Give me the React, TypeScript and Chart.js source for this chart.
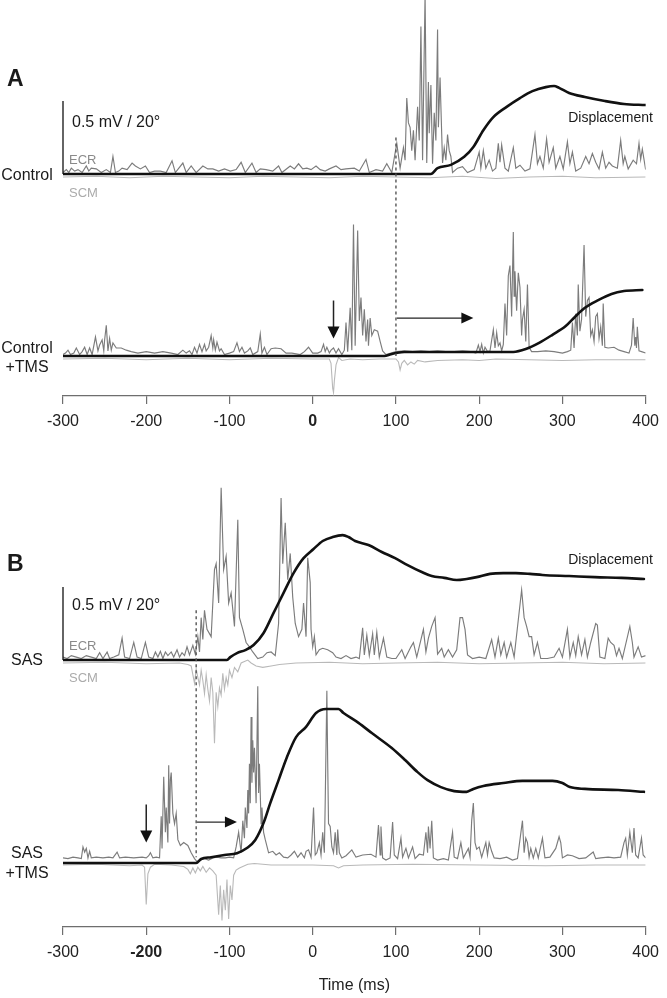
import React, { useEffect, useRef } from "react";
import { Chart, registerables } from "chart.js";
Chart.register(...registerables);

type P = [number, number];

// ---------- axis ticks ----------
const timeTicks = [-300, -200, -100, 0, 100, 200, 300, 400];
const boldTickA = 0;
const boldTickB = -200;

// ---------- Panel A : Control (ECR mV, SCM mV, displacement deg) ----------
const ctrlEcr: P[] = [[-300,0.01],[-296,0.03],[-293,0.01],[-290,0.04],[-286,0.02],[-282,0.03],[-277,0.01],[-272,0.055],[-269,0.02],[-266,0.04],[-260,0.035],[-254,0.01],[-248,0.03],[-243,0.01],[-240,0.12],[-237,0.01],[-233,0.02],[-229,0.04],[-223,0.03],[-217,0.075],[-213,0.055],[-207,0.035],[-201,0.055],[-196,0.01],[-190,0.02],[-183,0.02],[-176,0.01],[-169,0.09],[-165,0.01],[-156,0.075],[-152,0.01],[-146,0.055],[-140,0.01],[-132,0.055],[-126,0.035],[-120,0.035],[-113,0.02],[-106,0.035],[-99,0.02],[-92,0.03],[-86,0.08],[-81,0.01],[-73,0.075],[-68,0.01],[-63,0.035],[-56,0.03],[-48,0.02],[-41,0.055],[-37,0.01],[-27,0.055],[-22,0.035],[-17,0.07],[-12,0.035],[-7,0.04],[-2,0.03],[4,0.055],[9,0.03],[15,0.02],[20,0.035],[28,0.055],[34,0.03],[40,0.035],[50,0.04],[56,0.02],[64,0.10],[68,0.01],[76,0.03],[84,0.02],[89,0.07],[95,0.01],[101,0.21],[105,0.04],[109,0.18],[111,0.095],[113,0.52],[115,0.35],[117,0.32],[119,0.16],[121,0.30],[123,0.095],[126,0.46],[128,0.23],[130,1.01],[132,0.095],[135,1.23],[137,0.075],[139,0.63],[140,0.28],[142,0.61],[144,0.07],[146,0.42],[148,0.23],[150,0.99],[151,0.32],[153,0.66],[156,0.075],[158,0.18],[160,0.095],[162,0.27],[164,0.16],[166,0.12],[168,0.01],[174,0.04],[180,0.05],[186,0.01],[194,0.03],[200,0.15],[202,0.04],[205,0.16],[208,0.04],[212,0.095],[216,0.02],[220,0.04],[223,0.21],[225,0.08],[227,0.20],[231,0.04],[235,0.02],[241,0.18],[244,0.04],[249,0.06],[255,0.02],[261,0.035],[267,0.27],[270,0.07],[273,0.12],[277,0.04],[281,0.24],[284,0.08],[289,0.18],[292,0.04],[297,0.12],[301,0.035],[306,0.22],[309,0.07],[312,0.15],[316,0.02],[322,0.04],[328,0.12],[332,0.07],[336,0.14],[340,0.08],[344,0.035],[348,0.15],[352,0.04],[356,0.08],[360,0.055],[366,0.04],[370,0.23],[373,0.07],[375,0.12],[379,0.035],[385,0.095],[389,0.07],[392,0.21],[394,0.10],[396,0.17],[400,0.03]];
const ctrlScm: P[] = [[-300,0],[-260,0.005],[-220,-0.005],[-180,0.005],[-140,0],[-100,-0.005],[-60,0.005],[-20,0],[20,-0.005],[60,0.005],[100,0],[140,-0.005],[180,0.005],[220,-0.01],[260,0],[300,0.005],[340,-0.005],[400,0]];
const ctrlDisp: P[] = [[-300,0],[142,0],[150,1.6],[166,2.5],[182,4.7],[193,7.4],[205,12],[217,15.6],[233,18.4],[249,20.8],[264,22.7],[280,23.8],[290,24.1],[296,23.6],[308,22.2],[327,21.1],[351,20],[374,19.2],[400,18.9]];

// ---------- Panel A : Control + TMS ----------
const tmsEcr: P[] = [[-300,0.01],[-297,0.02],[-294,0.04],[-291,0.01],[-287,0.02],[-284,0.055],[-280,0.01],[-277,0.03],[-274,0.06],[-271,0.01],[-268,0.055],[-265,0.01],[-261,0.13],[-258,0.035],[-256,0.075],[-253,0.11],[-251,0.035],[-250,0.11],[-248,0.21],[-246,0.035],[-244,0.12],[-242,0.04],[-240,0.09],[-236,0.055],[-230,0.055],[-224,0.04],[-218,0.03],[-210,0.02],[-200,0.03],[-190,0.02],[-180,0.03],[-170,0.02],[-162,0.01],[-156,0.04],[-152,0.02],[-148,0.035],[-145,0.01],[-142,0.06],[-139,0.02],[-136,0.08],[-133,0.03],[-130,0.08],[-128,0.035],[-125,0.06],[-122,0.14],[-120,0.055],[-119,0.11],[-117,0.04],[-115,0.095],[-112,0.035],[-110,0.05],[-106,0.01],[-100,0.02],[-95,0.03],[-91,0.09],[-88,0.03],[-85,0.06],[-82,0.02],[-78,0.035],[-75,0.055],[-72,0.01],[-66,0.03],[-63,0.15],[-61,0.02],[-58,0.06],[-55,0.01],[-50,0.05],[-45,0.055],[-38,0.05],[-32,0.02],[-25,0.02],[-15,0.01],[-10,0.03],[-5,0.06],[0,0.02],[6,0.02],[10,0.03],[13,0.08],[15,0.03],[17,0.06],[20,0.02],[22,0.04],[25,0.055],[28,0.02],[31,0.05],[35,0.01],[38,0.04],[40,0.23],[42,0.03],[45,0.33],[47,0.04],[49,0.90],[51,0.07],[54,0.86],[56,0.24],[58,0.40],[60,0.14],[62,0.32],[64,0.10],[66,0.25],[67,0.07],[69,0.26],[71,0.14],[74,0.18],[78,0.17],[81,0.10],[84,0.035],[88,0.01],[94,0.02],[100,0.03],[110,0.035],[120,0.03],[130,0.035],[140,0.03],[150,0.035],[160,0.03],[170,0.03],[180,0.035],[190,0.03],[196,0.02],[199,0.075],[201,0.03],[203,0.08],[205,0.02],[207,0.06],[210,0.03],[213,0.035],[217,0.18],[219,0.055],[221,0.16],[223,0.07],[225,0.09],[227,0.035],[229,0.08],[231,0.36],[233,0.14],[235,0.55],[237,0.62],[239,0.27],[241,0.85],[242,0.41],[243,0.58],[245,0.31],[247,0.57],[249,0.47],[251,0.14],[252,0.25],[254,0.32],[256,0.10],[258,0.49],[260,0.06],[263,0.03],[270,0.03],[280,0.035],[290,0.03],[300,0.02],[306,0.03],[310,0.04],[312,0.23],[314,0.055],[316,0.29],[318,0.14],[319,0.49],[321,0.17],[323,0.25],[326,0.76],[328,0.27],[330,0.38],[332,0.40],[334,0.14],[336,0.18],[338,0.10],[340,0.27],[342,0.29],[344,0.12],[346,0.20],[348,0.07],[349,0.36],[351,0.06],[355,0.055],[362,0.06],[368,0.04],[374,0.03],[380,0.02],[383,0.075],[385,0.26],[387,0.07],[388,0.13],[389,0.055],[390,0.20],[392,0.035],[395,0.03],[400,0.02]];
const tmsScm: P[] = [[-300,0],[-250,0.005],[-200,-0.005],[-150,0.005],[-100,-0.005],[-50,0.005],[0,0],[20,0],[22,-0.03],[24,-0.2],[25,-0.23],[26,-0.15],[28,-0.04],[31,0.01],[35,-0.01],[45,0],[60,-0.005],[80,0],[100,0],[103,-0.02],[105,-0.075],[107,-0.03],[110,-0.01],[114,-0.04],[118,-0.02],[122,-0.035],[126,-0.01],[135,-0.02],[150,-0.01],[180,-0.005],[200,-0.01],[220,0],[260,-0.005],[300,-0.01],[340,-0.005],[400,-0.005]];
const tmsDisp: P[] = [[-300,0],[86,0],[94,0.5],[100,0.8],[110,1.1],[150,1.1],[200,1.1],[241,1.1],[256,1.9],[272,3.6],[288,5.8],[304,8.2],[315,10.7],[327,13.2],[343,15.3],[359,17],[374,17.8],[396,18.1]];

// ---------- Panel B : SAS ----------
const sasEcr: P[] = [[-300,0.02],[-295,0.01],[-290,0.03],[-284,0.02],[-278,0.01],[-272,0.03],[-266,0.02],[-260,0.01],[-256,0.05],[-252,0.01],[-247,0.055],[-244,0.01],[-239,0.02],[-233,0.035],[-229,0.15],[-226,0.02],[-220,0.01],[-215,0.12],[-211,0.02],[-206,0.01],[-201,0.12],[-197,0.02],[-192,0.01],[-189,0.055],[-186,0.02],[-183,0.06],[-180,0.01],[-177,0.055],[-174,0.03],[-170,0.055],[-167,0.02],[-163,0.07],[-160,0.02],[-157,0.05],[-154,0.03],[-151,0.09],[-148,0.035],[-144,0.10],[-141,0.04],[-138,0.16],[-136,0.055],[-134,0.29],[-132,0.14],[-130,0.34],[-127,0.21],[-122,0.16],[-118,0.62],[-116,0.66],[-113,0.39],[-110,1.18],[-107,0.62],[-104,0.71],[-101,0.39],[-98,0.46],[-94,0.23],[-90,0.96],[-88,0.29],[-84,0.21],[-80,0.12],[-76,0.09],[-72,0.055],[-66,0.01],[-60,0.02],[-55,0.05],[-50,0.055],[-45,0.03],[-41,0.25],[-38,1.11],[-36,0.66],[-33,0.94],[-30,0.55],[-27,0.73],[-24,0.43],[-21,0.25],[-17,0.16],[-13,0.21],[-11,0.39],[-8,0.16],[-6,0.70],[-3,0.53],[-2,0.21],[0,0.09],[2,0.16],[4,0.035],[8,0.07],[12,0.08],[18,0.07],[24,0.05],[28,0.02],[34,0.01],[40,0.03],[46,0.01],[52,0.02],[56,0.01],[60,0.22],[62,0.035],[65,0.17],[68,0.03],[72,0.18],[74,0.035],[77,0.19],[80,0.02],[85,0.15],[89,0.02],[95,0.01],[100,0.01],[107,0.07],[111,0.01],[118,0.09],[121,0.12],[125,0.02],[133,0.21],[136,0.055],[139,0.15],[143,0.23],[147,0.29],[150,0.04],[155,0.08],[158,0.02],[163,0.07],[168,0.02],[173,0.07],[177,0.29],[180,0.29],[183,0.21],[186,0.035],[192,0.01],[200,0.02],[208,0.01],[215,0.14],[219,0.02],[223,0.15],[226,0.035],[230,0.12],[233,0.02],[238,0.12],[242,0.02],[251,0.48],[254,0.29],[257,0.23],[260,0.16],[263,0.16],[266,0.035],[270,0.12],[274,0.01],[282,0.01],[290,0.02],[296,0.08],[300,0.02],[306,0.21],[309,0.02],[313,0.12],[316,0.03],[319,0.16],[323,0.035],[327,0.14],[330,0.02],[334,0.12],[340,0.25],[342,0.24],[345,0.02],[351,0.01],[355,0.15],[358,0.12],[362,0.10],[365,0.03],[368,0.08],[372,0.01],[381,0.23],[384,0.12],[386,0.02],[391,0.09],[395,0.02],[400,0.03]];
const sasScm: P[] = [[-300,0],[-250,0.005],[-200,-0.005],[-160,0],[-150,-0.01],[-146,-0.02],[-144,-0.08],[-142,-0.14],[-140,-0.04],[-138,-0.10],[-136,-0.15],[-134,-0.05],[-132,-0.12],[-130,-0.21],[-128,-0.08],[-126,-0.18],[-124,-0.26],[-122,-0.1],[-120,-0.2],[-118,-0.55],[-116,-0.2],[-114,-0.3],[-112,-0.17],[-110,-0.22],[-108,-0.07],[-106,-0.18],[-104,-0.1],[-102,-0.15],[-100,-0.05],[-97,-0.1],[-94,-0.03],[-90,-0.06],[-86,0.0],[-82,0.01],[-78,0.02],[-74,0.0],[-68,-0.02],[-60,-0.03],[-50,-0.02],[-40,-0.01],[-20,0],[20,0.005],[60,-0.005],[100,0],[150,0.005],[200,-0.005],[250,0],[300,0.005],[350,-0.005],[400,0]];
const sasDisp: P[] = [[-300,0],[-103,0],[-99,0.8],[-91,1.9],[-81,2.7],[-71,4.1],[-59,7.4],[-47,12.9],[-35,18.4],[-23,23.8],[-11,27.9],[1,30.4],[12,32.6],[24,33.7],[36,34.2],[43,33.7],[51,32.6],[67,31.5],[83,29.6],[99,27.9],[114,26],[131,24.1],[143,23],[158,22.5],[173,21.9],[185,22.2],[197,22.7],[213,23.6],[229,23.8],[244,23.8],[261,23.6],[276,23.3],[308,23],[339,22.7],[371,22.5],[398,22.2]];

// ---------- Panel B : SAS + TMS ----------
const sasTmsEcr: P[] = [[-300,0.035],[-294,0.03],[-288,0.04],[-282,0.035],[-278,0.03],[-276,0.11],[-274,0.075],[-272,0.10],[-270,0.035],[-268,0.08],[-266,0.035],[-260,0.04],[-252,0.035],[-245,0.04],[-240,0.035],[-235,0.075],[-232,0.035],[-225,0.04],[-215,0.035],[-205,0.04],[-200,0.035],[-197,0.05],[-195,0.07],[-192,0.035],[-188,0.04],[-184,0.035],[-182,0.32],[-181,0.10],[-179,0.59],[-177,0.21],[-176,0.38],[-174,0.14],[-173,0.67],[-172,0.27],[-171,0.57],[-170,0.62],[-168,0.34],[-166,0.27],[-164,0.34],[-162,0.16],[-159,0.12],[-155,0.14],[-150,0.12],[-146,0.07],[-142,0.03],[-139,0.01],[-135,0.02],[-130,0.03],[-125,0.02],[-120,0.035],[-115,0.04],[-110,0.035],[-105,0.035],[-100,0.04],[-95,0.035],[-92,0.11],[-89,0.21],[-86,0.07],[-84,0.29],[-82,0.17],[-81,0.38],[-79,0.24],[-78,0.50],[-77,0.34],[-76,0.68],[-75,0.41],[-74,1.0],[-73,0.55],[-72,0.84],[-71,0.62],[-70,0.79],[-68,0.41],[-66,1.21],[-65,0.48],[-64,0.68],[-62,0.27],[-61,0.38],[-59,0.21],[-57,0.16],[-53,0.07],[-48,0.08],[-44,0.055],[-40,0.07],[-35,0.04],[-30,0.035],[-26,0.055],[-22,0.08],[-18,0.04],[-14,0.07],[-10,0.035],[-8,0.08],[-5,0.09],[-2,0.04],[1,0.38],[3,0.055],[5,0.07],[8,0.14],[10,0.055],[12,0.21],[14,0.07],[15,0.41],[17,1.18],[18,0.69],[19,0.27],[21,0.25],[23,0.11],[25,0.07],[27,0.21],[29,0.055],[30,0.23],[32,0.07],[35,0.035],[40,0.05],[47,0.09],[52,0.04],[60,0.055],[70,0.06],[76,0.04],[79,0.26],[81,0.055],[82,0.25],[84,0.035],[88,0.02],[93,0.035],[96,0.28],[98,0.055],[102,0.03],[106,0.17],[108,0.04],[112,0.10],[115,0.035],[120,0.11],[123,0.03],[128,0.06],[133,0.055],[136,0.21],[138,0.07],[139,0.25],[141,0.10],[143,0.29],[145,0.035],[150,0.02],[157,0.03],[163,0.02],[168,0.21],[170,0.04],[174,0.03],[178,0.14],[181,0.035],[187,0.10],[189,0.04],[191,0.29],[193,0.41],[195,0.14],[197,0.095],[200,0.11],[203,0.04],[208,0.14],[210,0.055],[212,0.14],[215,0.08],[218,0.035],[225,0.03],[233,0.04],[240,0.02],[246,0.03],[252,0.29],[254,0.07],[256,0.17],[258,0.14],[260,0.04],[262,0.10],[265,0.035],[268,0.10],[271,0.035],[276,0.17],[279,0.035],[285,0.04],[292,0.10],[296,0.18],[298,0.14],[300,0.035],[306,0.055],[312,0.05],[320,0.03],[328,0.035],[337,0.075],[340,0.03],[346,0.035],[355,0.04],[362,0.035],[370,0.04],[374,0.14],[376,0.17],[378,0.055],[381,0.21],[384,0.07],[386,0.24],[388,0.055],[391,0.035],[395,0.17],[397,0.055],[400,0.035]];
const sasTmsScm: P[] = [[-300,0],[-260,0.005],[-220,-0.005],[-205,0],[-202,-0.015],[-200,-0.27],[-198,-0.06],[-195,-0.015],[-190,0.005],[-170,0],[-155,-0.01],[-150,-0.03],[-147,-0.06],[-144,-0.02],[-141,-0.055],[-138,-0.015],[-135,-0.04],[-132,-0.01],[-128,-0.05],[-124,-0.02],[-120,-0.04],[-116,-0.07],[-113,-0.34],[-111,-0.14],[-109,-0.38],[-107,-0.17],[-105,-0.31],[-103,-0.1],[-101,-0.37],[-99,-0.14],[-97,-0.24],[-95,-0.07],[-92,-0.035],[-88,-0.02],[-84,-0.01],[-78,0.005],[-70,0.01],[-50,0],[0,0],[25,-0.005],[31,-0.02],[37,-0.005],[60,0],[120,0.005],[200,0],[280,-0.005],[340,0],[400,0]];
const sasTmsDisp: P[] = [[-300,0],[-140,0],[-134,1.1],[-122,1.6],[-106,2.2],[-91,2.7],[-79,4.1],[-69,6.3],[-59,11],[-51,16.4],[-41,22.7],[-31,29],[-20,34.5],[-8,37.3],[4,41.1],[16,42.2],[31,42.2],[37,41.1],[55,38.4],[71,35.6],[95,31.5],[111,28.2],[126,24.9],[138,22.7],[154,20.8],[170,19.7],[185,19.5],[193,20.3],[205,21.1],[229,21.9],[252,22.5],[288,22.5],[300,21.9],[309,20.8],[327,20.3],[367,20],[398,19.5]];

// ---------- styling / layout ----------
const FONT = '"Liberation Sans", Arial, Helvetica, sans-serif';
const PX_PER_MV = 146;   // 0.5 mV = 73 px
const PX_PER_DEG = 3.65; // 20 deg = 73 px
const W = 667;

const panelA = {
  top: 0, height: 445, axisH: 49,
  traces: [
    { ecr: ctrlEcr, scm: ctrlScm, disp: ctrlDisp, base: 174, scmBase: 177 },
    { ecr: tmsEcr, scm: tmsScm, disp: tmsDisp, base: 356, scmBase: 359 },
  ],
  bold: boldTickA, title: "",
  ann: {
    bar: { x: -300, from: 0, to: 0.5 },
    dash: { x: 100, top: 0.25, bottom: 0 },
    hArrow: { x1: 101, x2: 193, v: 0.26 },
    vArrow: { x: 25, v1: 0.38, v2: 0.12 },
  },
};
const panelB = {
  top: 445, height: 553, axisH: 71,
  traces: [
    { ecr: sasEcr, scm: sasScm, disp: sasDisp, base: 215, scmBase: 218 },
    { ecr: sasTmsEcr, scm: sasTmsScm, disp: sasTmsDisp, base: 418, scmBase: 420 },
  ],
  bold: boldTickB, title: "Time (ms)",
  ann: {
    bar: { x: -300, from: 0, to: 0.5 },
    dash: { x: -140, top: 0.34, bottom: 0.04 },
    hArrow: { x1: -139, x2: -91, v: 0.28 },
    vArrow: { x: -200, v1: 0.40, v2: 0.14 },
  },
};

const annPlugin = {
  id: "ann",
  afterDatasetsDraw(chart: any, _args: any, opts: any) {
    const a = opts;
    if (!a || !a.bar) return;
    const ctx = chart.ctx;
    const sx = chart.scales.x;
    const y0 = chart.scales.ecr0;
    const y1 = chart.scales.ecr1;
    const px = (v: number) => sx.getPixelForValue(v);
    ctx.save();
    // scale bar
    ctx.strokeStyle = "#111";
    ctx.lineWidth = 1.3;
    ctx.beginPath();
    ctx.moveTo(px(a.bar.x), y0.getPixelForValue(a.bar.from));
    ctx.lineTo(px(a.bar.x), y0.getPixelForValue(a.bar.to));
    ctx.stroke();
    // dashed onset line
    ctx.strokeStyle = "#555";
    ctx.lineWidth = 1.4;
    ctx.setLineDash([3, 3]);
    ctx.beginPath();
    ctx.moveTo(px(a.dash.x), y0.getPixelForValue(a.dash.top));
    ctx.lineTo(px(a.dash.x), y1.getPixelForValue(a.dash.bottom));
    ctx.stroke();
    ctx.setLineDash([]);
    // horizontal arrow
    ctx.strokeStyle = "#222";
    ctx.fillStyle = "#111";
    ctx.lineWidth = 1.2;
    const hy = y1.getPixelForValue(a.hArrow.v);
    const hx1 = px(a.hArrow.x1), hx2 = px(a.hArrow.x2);
    ctx.beginPath();
    ctx.moveTo(hx1, hy);
    ctx.lineTo(hx2 - 10, hy);
    ctx.stroke();
    ctx.beginPath();
    ctx.moveTo(hx2, hy);
    ctx.lineTo(hx2 - 12, hy - 5.5);
    ctx.lineTo(hx2 - 12, hy + 5.5);
    ctx.closePath();
    ctx.fill();
    // vertical arrow
    const vx = px(a.vArrow.x);
    const vy1 = y1.getPixelForValue(a.vArrow.v1), vy2 = y1.getPixelForValue(a.vArrow.v2);
    ctx.lineWidth = 1.5;
    ctx.beginPath();
    ctx.moveTo(vx, vy1);
    ctx.lineTo(vx, vy2 - 10);
    ctx.stroke();
    ctx.beginPath();
    ctx.moveTo(vx, vy2);
    ctx.lineTo(vx - 6, vy2 - 12);
    ctx.lineTo(vx + 6, vy2 - 12);
    ctx.closePath();
    ctx.fill();
    ctx.restore();
  },
};

function buildChart(canvas: HTMLCanvasElement, p: any) {
  const H = p.height - p.axisH;
  const scales: any = {
    x: {
      type: "linear",
      min: -300,
      max: 400,
      afterBuildTicks: (s: any) => { s.ticks = timeTicks.map((v) => ({ value: v })); },
      afterFit: (s: any) => { s.height = p.axisH; },
      ticks: {
        color: "#222",
        padding: 8,
        maxRotation: 0,
        autoSkip: false,
        callback: (v: any) => String(v),
        font: (c: any) => ({ family: FONT, size: 16, weight: c.tick && c.tick.value === p.bold ? "bold" : "normal" }),
      },
      grid: { drawOnChartArea: false, drawTicks: true, tickLength: 8, color: "#6e6e6e", lineWidth: 1.2 },
      border: { display: true, color: "#6e6e6e", width: 1.2 },
      title: {
        display: !!p.title,
        text: p.title,
        color: "#222",
        font: { family: FONT, size: 16 },
        padding: { top: 4, bottom: 3 },
      },
    },
  };
  const datasets: any[] = [];
  p.traces.forEach((t: any, i: number) => {
    scales["ecr" + i] = { display: false, min: (t.base - H) / PX_PER_MV, max: t.base / PX_PER_MV };
    scales["scm" + i] = { display: false, min: (t.scmBase - H) / PX_PER_MV, max: t.scmBase / PX_PER_MV };
    scales["deg" + i] = { display: false, min: (t.base - H) / PX_PER_DEG, max: t.base / PX_PER_DEG };
    datasets.push({
      label: "SCM", yAxisID: "scm" + i, order: 3,
      data: t.scm.map(([x, y]: P) => ({ x, y })),
      borderColor: "#b9b9b9", borderWidth: 1.1, pointRadius: 0, tension: 0,
    });
    datasets.push({
      label: "ECR", yAxisID: "ecr" + i, order: 2,
      data: t.ecr.map(([x, y]: P) => ({ x, y })),
      borderColor: "#7c7c7c", borderWidth: 1.15, pointRadius: 0, tension: 0,
    });
    datasets.push({
      label: "Displacement", yAxisID: "deg" + i, order: 1,
      data: t.disp.map(([x, y]: P) => ({ x, y })),
      borderColor: "#111", borderWidth: 2.6, pointRadius: 0, cubicInterpolationMode: "monotone",
      borderCapStyle: "round", borderJoinStyle: "round",
    });
  });
  return new Chart(canvas, {
    type: "line",
    data: { datasets },
    options: {
      animation: false,
      responsive: false,
      maintainAspectRatio: false,
      events: [],
      layout: { padding: { left: 63, right: 14, top: 0, bottom: 0 } },
      scales,
      plugins: { legend: { display: false }, tooltip: { enabled: false }, ann: p.ann } as any,
    },
    plugins: [annPlugin as any],
  });
}

const Lbl = (props: { x: number; y: number; text: string; size: number; color?: string; bold?: boolean; align?: "left" | "center" | "right" }) => {
  const align = props.align || "left";
  const tx = align === "center" ? "-50%" : align === "right" ? "-100%" : "0";
  return (
    <div
      style={{
        position: "absolute", left: props.x, top: props.y, transform: `translate(${tx}, -50%)`,
        fontSize: props.size, lineHeight: 1, whiteSpace: "nowrap", color: props.color || "#1a1a1a",
        fontWeight: props.bold ? 700 : 400, fontFamily: FONT,
      }}
    >
      {props.text}
    </div>
  );
};

export default function App() {
  const refA = useRef<HTMLCanvasElement>(null);
  const refB = useRef<HTMLCanvasElement>(null);
  useEffect(() => {
    const a = buildChart(refA.current!, panelA);
    const b = buildChart(refB.current!, panelB);
    return () => { a.destroy(); b.destroy(); };
  }, []);
  return (
    <div style={{ position: "absolute", left: 0, top: 0, width: W, height: 998, background: "#fff", overflow: "hidden" }}>
      <canvas ref={refA} width={W} height={panelA.height} style={{ position: "absolute", left: 0, top: panelA.top }} />
      <canvas ref={refB} width={W} height={panelB.height} style={{ position: "absolute", left: 0, top: panelB.top }} />
      {/* Panel A labels */}
      <Lbl x={7} y={78} text="A" size={23} bold />
      <Lbl x={72} y={122} text="0.5 mV / 20°" size={16} />
      <Lbl x={69} y={159} text="ECR" size={13} color="#8a8a8a" />
      <Lbl x={69} y={192} text="SCM" size={13} color="#ababab" />
      <Lbl x={27} y={175} text="Control" size={16} align="center" />
      <Lbl x={653} y={117} text="Displacement" size={14} align="right" />
      <Lbl x={27} y={348} text="Control" size={16} align="center" />
      <Lbl x={27} y={367} text="+TMS" size={16} align="center" />
      {/* Panel B labels */}
      <Lbl x={7} y={563} text="B" size={23} bold />
      <Lbl x={72} y={605} text="0.5 mV / 20°" size={16} />
      <Lbl x={69} y={645} text="ECR" size={13} color="#8a8a8a" />
      <Lbl x={69} y={677} text="SCM" size={13} color="#ababab" />
      <Lbl x={27} y={660} text="SAS" size={16} align="center" />
      <Lbl x={653} y={559} text="Displacement" size={14} align="right" />
      <Lbl x={27} y={853} text="SAS" size={16} align="center" />
      <Lbl x={27} y={873} text="+TMS" size={16} align="center" />
    </div>
  );
}
